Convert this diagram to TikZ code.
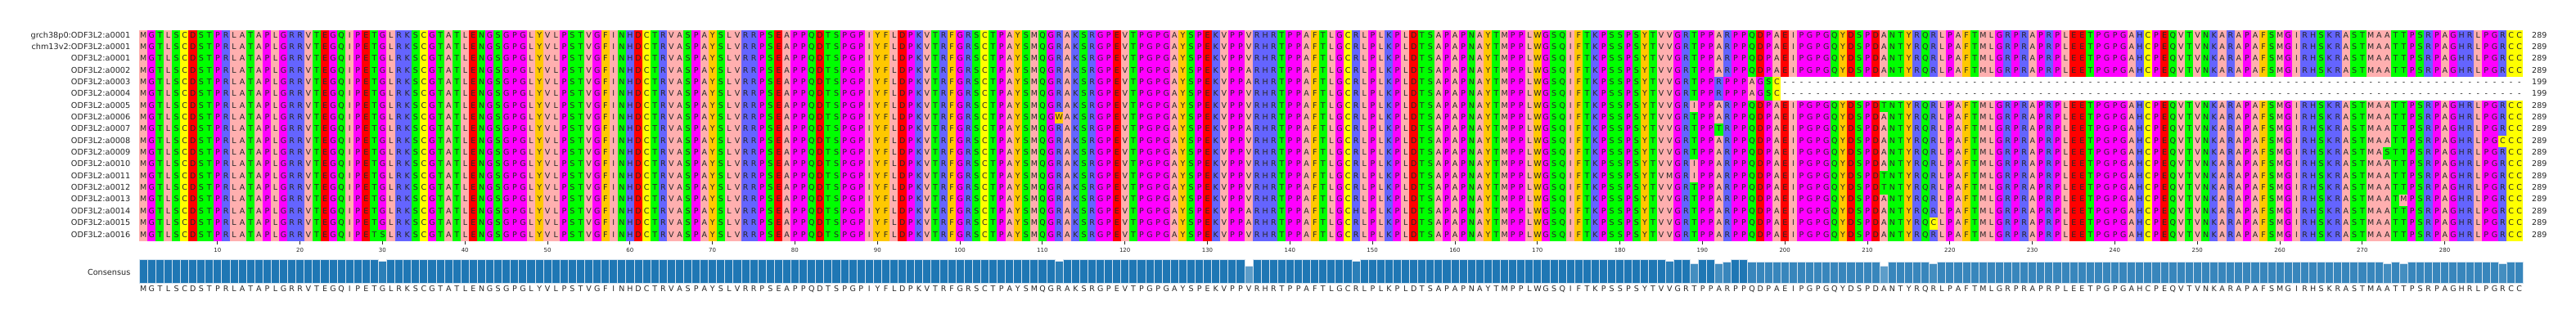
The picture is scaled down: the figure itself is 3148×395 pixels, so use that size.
\documentclass[tikz,border=0pt]{standalone}
\usepackage{fontspec}
\setmainfont{DejaVu Sans}
% Zappo residue colours
\definecolor{resA}{HTML}{FFAFAF}\definecolor{resV}{HTML}{FFAFAF}\definecolor{resL}{HTML}{FFAFAF}
\definecolor{resI}{HTML}{FFAFAF}\definecolor{resM}{HTML}{FFAFAF}
\definecolor{resF}{HTML}{FFC800}\definecolor{resW}{HTML}{FFC800}\definecolor{resY}{HTML}{FFC800}
\definecolor{resK}{HTML}{6464FF}\definecolor{resR}{HTML}{6464FF}\definecolor{resH}{HTML}{6464FF}
\definecolor{resD}{HTML}{FF0000}\definecolor{resE}{HTML}{FF0000}
\definecolor{resS}{HTML}{00FF00}\definecolor{resT}{HTML}{00FF00}\definecolor{resN}{HTML}{00FF00}\definecolor{resQ}{HTML}{00FF00}
\definecolor{resP}{HTML}{FF00FF}\definecolor{resG}{HTML}{FF00FF}
\definecolor{resC}{HTML}{FFFF00}
\definecolor{barblue}{HTML}{1F77B4}
\definecolor{barline}{HTML}{D2E2EF}
\definecolor{txtgray}{HTML}{262626}
\newcommand\myresfont{\fontsize{9.5}{11}\selectfont}
\newcommand\mylabfont{\fontsize{9.7}{11}\selectfont}
\newcommand\mytickfont{\fontsize{7}{8}\selectfont}
\newdimen\cw \cw=10.081pt
\newcount\cc
\def\currow{0}
% one row of residues, each in a cell of width \cw; per-row variants replace the consensus letter
\def\cellify#1{\ifx#1\relax\else\global\advance\cc by 1\relax
  \ifcsname vr@\currow @\the\cc\endcsname\makebox[\cw][c]{\csname vr@\currow @\the\cc\endcsname}\else\makebox[\cw][c]{#1}\fi
  \expandafter\cellify\fi}
\newcount\colctr
\def\colfill#1{\ifx#1\relax\else\global\advance\colctr by 1\relax
  \fill[res#1] ({170+(\the\colctr-1)*10.081},36.7) rectangle ++(10.081,258.3);\expandafter\colfill\fi}
\def\consA{MGTLSCDSTP RLATAPLGRR VTEGQIPETG LRKSCGTATL ENGSGPGLYV LPSTVGFINH DCTRVASPAY SLVRRPSEAP PQDTSPGPIY FLDPKVTRFG RSCTPAYSMQ GRAKSRGPEV TPGPGAYSPE KVPPVRHRTP PAFTLGCRLP LKPLDTSAPA PNAYTMPPLW GSQIFTKPSS PSYTVVGRTP PARPPQDPA}
\def\consB{E IPGPGQYDSP DANTYRQRLP AFTMLGRPRA PRPLEETPGP GAHCPEQVTV NKARAPAFSM GIRHSKRAST MAATTPSRPA GHRLPGRCC}
\def\dashes{---------- ---------- ---------- ---------- ---------- ---------- ---------- ---------- ----------}
\edef\fullcons{\consA\consB}
\edef\gapcons{\consA\dashes}
\def\variants{18/30/S,8/112/W,4/135/A,5/135/A,9/135/A,16/135/A,17/135/A,16/148/H,13/186/M,7/189/I,12/189/I,13/189/I,5/192/R,6/192/R,9/192/T,5/193/P,6/193/P,5/196/A,6/196/A,5/197/G,6/197/G,5/198/S,6/198/S,5/199/C,6/199/C,7/212/T,13/212/T,14/212/T,17/218/C,11/273/S,15/275/M,10/287/C}
\foreach \r/\c/\a in \variants {\expandafter\xdef\csname vr@\r @\c\endcsname{\a}}
% consensus bar fractions (out of 18)
\foreach \c/\f in {30/17,112/17,135/13,148/17,186/17,189/15,192/15,193/16,196/16,197/16,198/16,199/16,212/13,218/15,273/15,275/15,287/15}{\expandafter\xdef\csname bf@\c\endcsname{\f}}
\tikzset{
  res/.style={font=\myresfont, text=txtgray, inner sep=0pt},
  lab/.style={font=\mylabfont, text=txtgray, inner sep=0pt},
  tickf/.style={font=\mytickfont, text=txtgray, inner sep=0pt},
  tickline/.style={draw=txtgray, line width=0.8pt},
}
\begin{document}
\begin{tikzpicture}[x=1pt,y=-1pt]
\useasboundingbox[fill=white] (0,0) rectangle (3148,395);
% column backgrounds (consensus colours)
\global\colctr=0
\expandafter\colfill\fullcons\relax
% variant cell backgrounds
\foreach \r/\c/\a in \variants {
  \pgfmathsetmacro\xl{170+(\c-1)*10.081}
  \pgfmathsetmacro\yt{36.7+(\r-1)*14.35}
  \fill[res\a] (\xl,\yt) rectangle ++(10.081,14.35);
}
% gap area of rows 5 and 6
\fill[white] (2176.12,94.1) rectangle (3083.41,122.8);
% labels, sequences, lengths
\foreach \lab [count=\r] in {grch38p0:ODF3L2:a0001,chm13v2:ODF3L2:a0001,ODF3L2:a0001,ODF3L2:a0002,ODF3L2:a0003,ODF3L2:a0004,ODF3L2:a0005,ODF3L2:a0006,ODF3L2:a0007,ODF3L2:a0008,ODF3L2:a0009,ODF3L2:a0010,ODF3L2:a0011,ODF3L2:a0012,ODF3L2:a0013,ODF3L2:a0014,ODF3L2:a0015,ODF3L2:a0016}{
  \pgfmathsetmacro\yb{36.7+(\r-1)*14.35+9.4}
  \node[lab, anchor=base east] (lab\r) at (159.5,\yb) {\lab};
  \ifnum\r=5 \let\myrowstr\gapcons\else\ifnum\r=6 \let\myrowstr\gapcons\else\let\myrowstr\fullcons\fi\fi
  \xdef\currow{\r}\global\cc=0
  \node[res, anchor=base west] (row\r) at (170,\yb) {\expandafter\cellify\myrowstr\relax};
  \node[res, anchor=base west] (len\r) at (3094,\yb) {\ifnum\r=5 199\else\ifnum\r=6 199\else 289\fi\fi};
}
% ruler
\foreach \t in {10,20,...,280}{
  \pgfmathsetmacro\xt{170+(\t-0.5)*10.081}
  \draw[tickline] (\xt,295.3) -- (\xt,299.3);
  \node[tickf, anchor=base] (tk\t) at (\xt,308.3) {\t};
}
% consensus bars
\foreach \i in {1,...,289}{
  \ifcsname bf@\i\endcsname \edef\bfv{\csname bf@\i\endcsname}\else\ifnum\i>199 \def\bfv{16}\else\def\bfv{18}\fi\fi
  \pgfmathsetmacro\bh{28.7*\bfv/18}
  \pgfmathsetmacro\bp{100*\bfv/18}
  \pgfmathsetmacro\bx{170+(\i-1)*10.081}
  \filldraw[fill=barblue!\bp!white, draw=barline, line width=0.7pt] (\bx,346) rectangle ++(10.081,-\bh);
}
\node[lab, anchor=base east] (conslab) at (159.5,336.8) {Consensus};
\xdef\currow{0}\global\cc=0
\node[res, anchor=base west] (consrow) at (170,356.2) {\expandafter\cellify\fullcons\relax};
\end{tikzpicture}
\end{document}
